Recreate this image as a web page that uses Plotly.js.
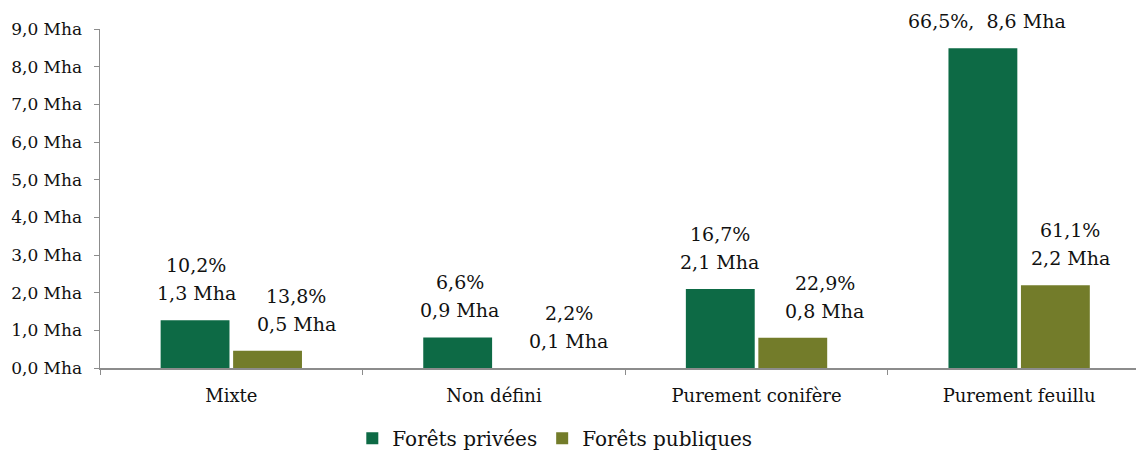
<!DOCTYPE html>
<html>
<head>
<meta charset="utf-8">
<script src="https://cdn.plot.ly/plotly-3.0.1.min.js"></script>
<style>
html,body{margin:0;padding:0;background:#fff;overflow:hidden;}
#chart{width:1136px;height:451px;}
</style>
</head>
<body>
<div id="chart"></div>
<script>
// ---- Data ----
const categories = ["Mixte", "Non défini", "Purement conifère", "Purement feuillu"];
const seriesNames = ["Forêts privées", "Forêts publiques"];
const privateValues = [1.27, 0.81, 2.10, 8.49];
const publicValues = [0.46, 0.00, 0.80, 2.20];
const privatePct = ["10,2%", "6,6%", "16,7%", "66,5%"];
const privateMha = ["1,3 Mha", "0,9 Mha", "2,1 Mha", "8,6 Mha"];
const publicPct = ["13,8%", "2,2%", "22,9%", "61,1%"];
const publicMha = ["0,5 Mha", "0,1 Mha", "0,8 Mha", "2,2 Mha"];
const yTickValues = [0, 1, 2, 3, 4, 5, 6, 7, 8, 9];
const yTickLabels = ["0,0 Mha", "1,0 Mha", "2,0 Mha", "3,0 Mha", "4,0 Mha", "5,0 Mha", "6,0 Mha", "7,0 Mha", "8,0 Mha", "9,0 Mha"];

// ---- Styles ----
const FONT = "DejaVu Serif, Liberation Serif, serif";
const colPrivate = "#0d6a45";
const colPublic = "#737c2a";
const axisCol = "#8c8c8c";

const traces = [
  {type: "bar", name: seriesNames[0], x: categories, y: privateValues,
   marker: {color: colPrivate}, hoverinfo: "skip"},
  {type: "bar", name: seriesNames[1], x: categories, y: publicValues,
   marker: {color: colPublic}, hoverinfo: "skip"}
];

// label horizontal offsets (px from group centre)
const privShift = [-35, -34, -37, -32];
const pubShift = [65, 75, 68, 51];
const LINE = 28;
const BASE = 14;
const annotations = [];
function addLabel(cat, val, lines, xs) {
  for (let k = 0; k < lines.length; k++) {
    const fromBottom = lines.length - 1 - k;
    annotations.push({
      x: cat, y: val, xref: "x", yref: "y", text: lines[k], showarrow: false,
      xanchor: "center", yanchor: "bottom", xshift: xs, yshift: BASE + fromBottom * LINE,
      font: {family: FONT, size: 19, color: "#111"}
    });
  }
}
categories.forEach((c, i) => {
  if (i === 3) {
    addLabel(c, privateValues[i], [privatePct[i] + ",  " + privateMha[i]], privShift[i]);
  } else {
    addLabel(c, privateValues[i], [privatePct[i], privateMha[i]], privShift[i]);
  }
  addLabel(c, publicValues[i], [publicPct[i], publicMha[i]], pubShift[i]);
});

const layout = {
  width: 1136, height: 451,
  margin: {l: 100, r: 0, t: 29, b: 83, autoexpand: false},
  paper_bgcolor: "#fff", plot_bgcolor: "#fff",
  separators: ",.",
  barmode: "group", bargap: 0.448, bargroupgap: 0.05,
  showlegend: true,
  legend: {orientation: "h", x: 0.439, xanchor: "center", yref: "container", y: 0.028, yanchor: "middle",
           font: {family: FONT, size: 20, color: "#111"}, traceorder: "normal"},
  xaxis: {type: "category", range: [-0.5, 3.445], showline: true, linecolor: axisCol, linewidth: 1.5,
          ticks: "outside", tickson: "boundaries", ticklen: 5, tickcolor: axisCol, ticklabelstandoff: 11,
          tickfont: {family: FONT, size: 18, color: "#111"}, showgrid: false, zeroline: false,
          fixedrange: true},
  yaxis: {range: [0, 9], tickmode: "array", tickvals: yTickValues, ticktext: yTickLabels,
          showline: true, linecolor: axisCol, linewidth: 1.5, ticks: "outside", ticklen: 5,
          tickcolor: axisCol, ticklabelstandoff: 8,
          tickfont: {family: FONT, size: 17, color: "#111"}, showgrid: false, zeroline: false,
          fixedrange: true},
  annotations: annotations
};

Plotly.newPlot("chart", traces, layout, {displayModeBar: false, staticPlot: true});
</script>
</body>
</html>
